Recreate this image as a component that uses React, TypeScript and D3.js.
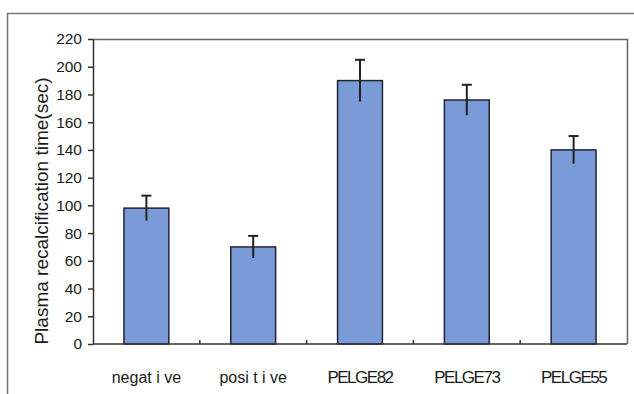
import React, { useEffect, useRef } from "react";
import * as d3 from "d3";

const categories = ["negat i ve", "posi t i ve", "PELGE82", "PELGE73", "PELGE55"];
const means = [98, 70, 190, 176, 140];
const errors = [9, 8, 15, 11, 10];
const yTicks = [0, 20, 40, 60, 80, 100, 120, 140, 160, 180, 200, 220];

export default function App() {
  const ref = useRef<SVGSVGElement>(null);
  const width = 634;
  const height = 394;

  useEffect(() => {
    const margin = { top: 39, right: 7, bottom: 50, left: 93 };
    const svg = d3.select(ref.current);
    svg.selectAll("*").remove();

    const font = "'Liberation Sans', Arial, sans-serif";
    const x0 = margin.left;
    const x1 = width - margin.right;
    const y0 = height - margin.bottom;
    const y1 = margin.top;

    const x = d3.scaleBand<string>().domain(categories).range([x0, x1]).paddingInner(0).paddingOuter(0);
    const y = d3.scaleLinear().domain([0, 220]).range([y0, y1]);

    svg.append("rect").attr("width", width).attr("height", height).attr("fill", "#ffffff");

    // outer frame
    svg
      .append("path")
      .attr("d", `M7.5,${height + 2} V13.5 H${width + 2}`)
      .attr("fill", "none")
      .attr("stroke", "#777")
      .attr("stroke-width", 1.5);

    // plot frame (top/right)
    svg
      .append("path")
      .attr("d", `M${x0},${y1 + 0.5} H${x1 + 0.5} V${y0}`)
      .attr("fill", "none")
      .attr("stroke", "#666")
      .attr("stroke-width", 1.5);

    // bars
    const bw = x.bandwidth() * 0.42;
    const g = svg.append("g");
    categories.forEach((c, i) => {
      const cx = (x(c) as number) + x.bandwidth() / 2;
      g.append("rect")
        .attr("x", cx - bw / 2)
        .attr("y", y(means[i]))
        .attr("width", bw)
        .attr("height", y(0) - y(means[i]))
        .attr("fill", "#7b9bd8")
        .attr("stroke", "#1f2333")
        .attr("stroke-width", 1.5);
      g.append("line")
        .attr("x1", cx)
        .attr("x2", cx)
        .attr("y1", y(means[i] + errors[i]))
        .attr("y2", y(means[i] - errors[i]))
        .attr("stroke", "#222")
        .attr("stroke-width", 2);
      g.append("line")
        .attr("x1", cx - 5)
        .attr("x2", cx + 5)
        .attr("y1", y(means[i] + errors[i]))
        .attr("y2", y(means[i] + errors[i]))
        .attr("stroke", "#222")
        .attr("stroke-width", 2);
    });

    // y axis
    const yAxis = svg
      .append("g")
      .attr("transform", `translate(${x0},0)`)
      .call(d3.axisLeft(y).tickValues(yTicks).tickSize(5).tickPadding(6).tickSizeOuter(0));
    yAxis.selectAll("path,line").attr("stroke", "#333").attr("stroke-width", 1.5);
    yAxis
      .selectAll("text")
      .attr("fill", "#1a1a1a")
      .attr("font-size", 15.5)
      .attr("font-family", font);

    // x axis
    const xAxis = svg.append("g").attr("transform", `translate(0,${y0})`);
    xAxis
      .append("line")
      .attr("x1", x0)
      .attr("x2", x1)
      .attr("stroke", "#333")
      .attr("stroke-width", 1.5);
    categories.slice(1).forEach((c) => {
      xAxis
        .append("line")
        .attr("x1", x(c) as number)
        .attr("x2", x(c) as number)
        .attr("y1", 0)
        .attr("y2", -4)
        .attr("stroke", "#333")
        .attr("stroke-width", 1.5);
    });
    categories.forEach((c, i) => {
      xAxis
        .append("text")
        .attr("x", (x(c) as number) + x.bandwidth() / 2)
        .attr("y", 39)
        .attr("text-anchor", "middle")
        .attr("font-size", i >= 2 ? 17 : 16)
        .attr("font-family", font)
        .attr("letter-spacing", i >= 2 ? -1.5 : 0)
        .attr("fill", "#1a1a1a")
        .text(c);
    });

    // y label
    svg
      .append("text")
      .attr("transform", `translate(48, 211) rotate(-90)`)
      .attr("text-anchor", "middle")
      .attr("font-size", 19)
      .attr("font-family", font)
      .attr("fill", "#1a1a1a")
      .text("Plasma recalcification time(sec)");
  }, []);

  return (
    <svg
      ref={ref}
      width={width}
      height={height}
      style={{ position: "absolute", left: 0, top: 0 }}
    />
  );
}
